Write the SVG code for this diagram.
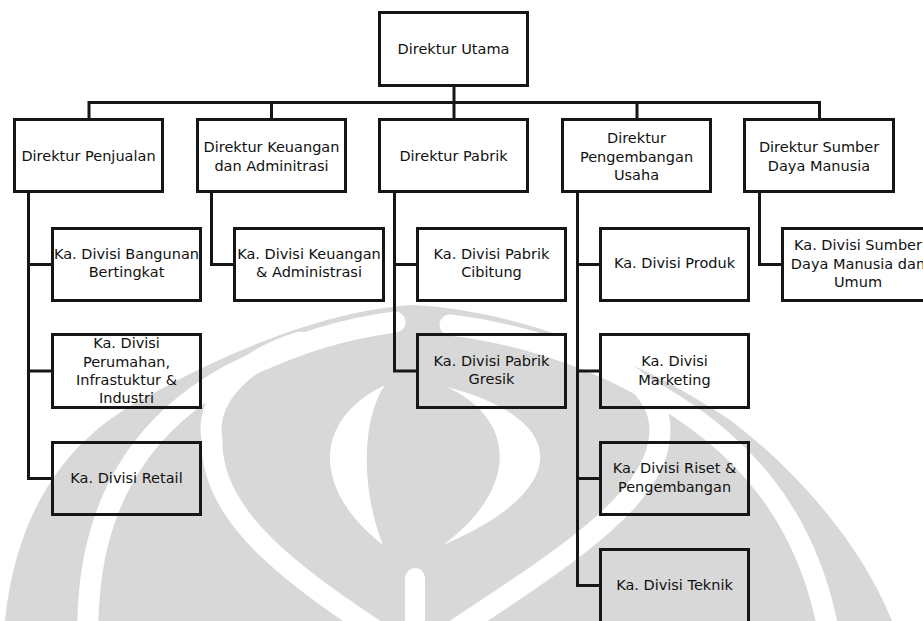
<svg xmlns="http://www.w3.org/2000/svg" width="923" height="621" viewBox="0 0 923 621">
  <style>
    .box { fill: none; stroke: #161616; stroke-width: 3; }
    .wire { fill: none; stroke: #161616; stroke-width: 3; stroke-linecap: square; }
    text { font-family: "Century Gothic", "DejaVu Sans", "Noto Sans", sans-serif; font-size: 14.5px; fill: #111; text-anchor: middle; }
    .mark { fill: #d8d8d8; }
    .cut { fill: none; stroke: #fff; stroke-width: 21; stroke-linecap: round; }
    .cutfill { fill: #fff; }
  </style>

  <rect width="923" height="621" fill="#fff"/>

  <!-- faint emblem in the background -->
  <g id="emblem">
    <path class="mark" d="M 5 621 C 15 520 60 440 150 395 C 230 350 330 310 412 305 C 520 310 640 360 730 420 C 790 465 860 540 892 621 Z"/>
    <path class="cut" d="M 88 640 C 85 520 130 430 230 375 C 300 340 350 328 395 322"/>
    <path class="cut" d="M 830 640 C 810 520 745 440 640 385 C 580 352 510 332 450 325"/>
    <path class="cut" d="M 390 640 C 300 580 210 520 212 440 C 205 400 240 360 300 342"/>
    <path class="cut" d="M 440 640 C 560 560 660 500 660 430 C 660 390 620 360 560 342"/>
    <path class="cutfill" d="M 385 385 C 312 420 312 490 383 545 C 361 490 361 420 385 385 Z"/>
    <path class="cutfill" d="M 447 387 C 572 420 572 490 443 545 C 518 490 518 420 447 387 Z"/>
    <rect class="cutfill" x="405" y="568" width="20" height="70" rx="10"/>
  </g>

  <!-- connectors -->
  <g id="connectors">
    <path class="wire" d="M 454 87 V 118"/>
    <path class="wire" d="M 89 118 V 102.5 H 819.5 V 118"/>
    <path class="wire" d="M 271.5 102.5 V 118"/>
    <path class="wire" d="M 637 102.5 V 118"/>
    <path class="wire" d="M 28.5 193 V 478.5 H 51"/>
    <path class="wire" d="M 28.5 264.5 H 51 M 28.5 371 H 51"/>
    <path class="wire" d="M 211.5 193 V 264.5 H 233"/>
    <path class="wire" d="M 394.5 193 V 371 H 416 M 394.5 264.5 H 416"/>
    <path class="wire" d="M 577.5 193 V 585.5 H 599 M 577.5 264.5 H 599 M 577.5 371 H 599 M 577.5 478.5 H 599"/>
    <path class="wire" d="M 759.5 193 V 264.5 H 781"/>
  </g>

  <g id="direktur-utama">
    <rect class="box" x="379.5" y="12.5" width="148" height="73"/>
    <text x="453.5" y="54">Direktur Utama</text>
  </g>

  <g id="direktur-penjualan">
    <rect class="box" x="14.5" y="119.5" width="148" height="72"/>
    <text x="88.5" y="161">Direktur Penjualan</text>
  </g>
  <g id="direktur-keuangan">
    <rect class="box" x="197.5" y="119.5" width="148" height="72"/>
    <text x="271.5" y="152">Direktur Keuangan</text>
    <text x="271.5" y="171">dan Adminitrasi</text>
  </g>
  <g id="direktur-pabrik">
    <rect class="box" x="379.5" y="119.5" width="148" height="72"/>
    <text x="453.5" y="161">Direktur Pabrik</text>
  </g>
  <g id="direktur-pengembangan">
    <rect class="box" x="562.5" y="119.5" width="148" height="72"/>
    <text x="636.5" y="143">Direktur</text>
    <text x="636.5" y="161.5">Pengembangan</text>
    <text x="636.5" y="179.5">Usaha</text>
  </g>
  <g id="direktur-sdm">
    <rect class="box" x="744.5" y="119.5" width="149" height="72"/>
    <text x="819" y="152">Direktur Sumber</text>
    <text x="819" y="171">Daya Manusia</text>
  </g>

  <g id="div-bangunan">
    <rect class="box" x="52.5" y="228.5" width="148" height="72"/>
    <text x="126.5" y="259">Ka. Divisi Bangunan</text>
    <text x="126.5" y="277">Bertingkat</text>
  </g>
  <g id="div-perumahan">
    <rect class="box" x="52.5" y="334.5" width="148" height="73"/>
    <text x="126.5" y="348">Ka. Divisi</text>
    <text x="126.5" y="366.5">Perumahan,</text>
    <text x="126.5" y="385">Infrastuktur &amp;</text>
    <text x="126.5" y="403">Industri</text>
  </g>
  <g id="div-retail">
    <rect class="box" x="52.5" y="442.5" width="148" height="72"/>
    <text x="126.5" y="483">Ka. Divisi Retail</text>
  </g>

  <g id="div-keuangan">
    <rect class="box" x="234.5" y="228.5" width="149" height="72"/>
    <text x="309" y="259">Ka. Divisi Keuangan</text>
    <text x="309" y="277">&amp; Administrasi</text>
  </g>

  <g id="div-cibitung">
    <rect class="box" x="417.5" y="228.5" width="148" height="72"/>
    <text x="491.5" y="259">Ka. Divisi Pabrik</text>
    <text x="491.5" y="277">Cibitung</text>
  </g>
  <g id="div-gresik">
    <rect class="box" x="417.5" y="334.5" width="148" height="73"/>
    <text x="491.5" y="366">Ka. Divisi Pabrik</text>
    <text x="491.5" y="384">Gresik</text>
  </g>

  <g id="div-produk">
    <rect class="box" x="600.5" y="228.5" width="148" height="72"/>
    <text x="674.5" y="268">Ka. Divisi Produk</text>
  </g>
  <g id="div-marketing">
    <rect class="box" x="600.5" y="334.5" width="148" height="73"/>
    <text x="674.5" y="366">Ka. Divisi</text>
    <text x="674.5" y="385">Marketing</text>
  </g>
  <g id="div-riset">
    <rect class="box" x="600.5" y="442.5" width="148" height="72"/>
    <text x="674.5" y="473">Ka. Divisi Riset &amp;</text>
    <text x="674.5" y="492">Pengembangan</text>
  </g>
  <g id="div-teknik">
    <rect class="box" x="600.5" y="549.5" width="148" height="75"/>
    <text x="674.5" y="590">Ka. Divisi Teknik</text>
  </g>

  <g id="div-sdm">
    <rect class="box" x="782.5" y="228.5" width="148" height="72"/>
    <text x="858" y="250">Ka. Divisi Sumber</text>
    <text x="858" y="269">Daya Manusia dan</text>
    <text x="858" y="287">Umum</text>
  </g>
</svg>
